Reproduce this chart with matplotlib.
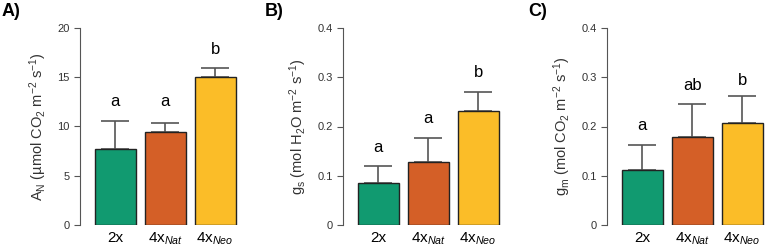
import numpy as np
from matplotlib import pyplot as plt

plt.rcParams['font.family'] = ['Liberation Sans', 'DejaVu Sans']
plt.rcParams['mathtext.fontset'] = 'custom'
plt.rcParams['mathtext.rm'] = 'Liberation Sans'
plt.rcParams['mathtext.it'] = 'Liberation Sans:italic'

# data
groups = ['2x', r'4x$_{\mathit{Nat}}$', r'4x$_{\mathit{Neo}}$']
colors = ['#119a70', '#d45f27', '#fbbd28']

an_mean = [7.7, 9.4, 15.0]
an_err = [2.85, 1.0, 0.95]
an_letters = ['a', 'a', 'b']
an_letter_y = [12.5, 12.5, 17.8]

gs_mean = [0.085, 0.127, 0.231]
gs_err = [0.035, 0.049, 0.040]
gs_letters = ['a', 'a', 'b']
gs_letter_y = [0.158, 0.217, 0.309]

gm_mean = [0.112, 0.178, 0.208]
gm_err = [0.051, 0.067, 0.053]
gm_letters = ['a', 'ab', 'b']
gm_letter_y = [0.203, 0.284, 0.294]

panels = [
    ('A)', an_mean, an_err, an_letters, an_letter_y, 20, [0, 5, 10, 15, 20], ['0', '5', '10', '15', '20'],
     r'A$_\mathrm{N}$ (µmol CO$_2$ m$^{-2}$ s$^{-1}$)'),
    ('B)', gs_mean, gs_err, gs_letters, gs_letter_y, 0.4, [0, 0.1, 0.2, 0.3, 0.4], ['0', '0.1', '0.2', '0.3', '0.4'],
     r'g$_\mathrm{s}$ (mol H$_2$O m$^{-2}$ s$^{-1}$)'),
    ('C)', gm_mean, gm_err, gm_letters, gm_letter_y, 0.4, [0, 0.1, 0.2, 0.3, 0.4], ['0', '0.1', '0.2', '0.3', '0.4'],
     r'g$_\mathrm{m}$ (mol CO$_2$ m$^{-2}$ s$^{-1}$)'),
]

W, H = 767, 250
fig = plt.figure(figsize=(W / 100, H / 100), dpi=100)
lefts = [80, 343, 607]
x = np.arange(3)

for (tag, mean, err, letters, ly, ymax, ticks, ticklabels, ylabel), left in zip(panels, lefts):
    ax = fig.add_axes([left / W, 25 / H, 160 / W, 197 / H])
    ax.bar(x, mean, width=0.82, color=colors, edgecolor='#222222', linewidth=1.0, zorder=3)
    ax.errorbar(x, mean, yerr=[np.zeros(3), err], fmt='none', ecolor='#555555',
                elinewidth=1.2, capsize=10, capthick=1.2, zorder=2)
    for xi, lab, yy in zip(x, letters, ly):
        ax.text(xi, yy, lab, ha='center', va='center', fontsize=12)
    ax.set_xlim(-0.71, 2.5)
    ax.set_ylim(0, ymax)
    ax.set_yticks(ticks)
    ax.set_yticklabels(ticklabels)
    ax.set_xticks(x)
    ax.set_xticklabels(groups, fontsize=11)
    for s in ['top', 'right', 'bottom']:
        ax.spines[s].set_visible(False)
    ax.spines['left'].set_color('#555555')
    ax.spines['left'].set_position(('outward', 0))
    ax.tick_params(axis='x', length=0, pad=4)
    ax.tick_params(axis='y', length=4, color='#555555', labelsize=8, labelcolor='#333333')
    ax.set_ylabel(ylabel, fontsize=10.5, color='#333333', labelpad=6)
    fig.text((left - 80) / W + 0.002, 0.955, tag, fontsize=13, fontweight='bold', va='center')

fig.savefig('out.png', dpi=100)
